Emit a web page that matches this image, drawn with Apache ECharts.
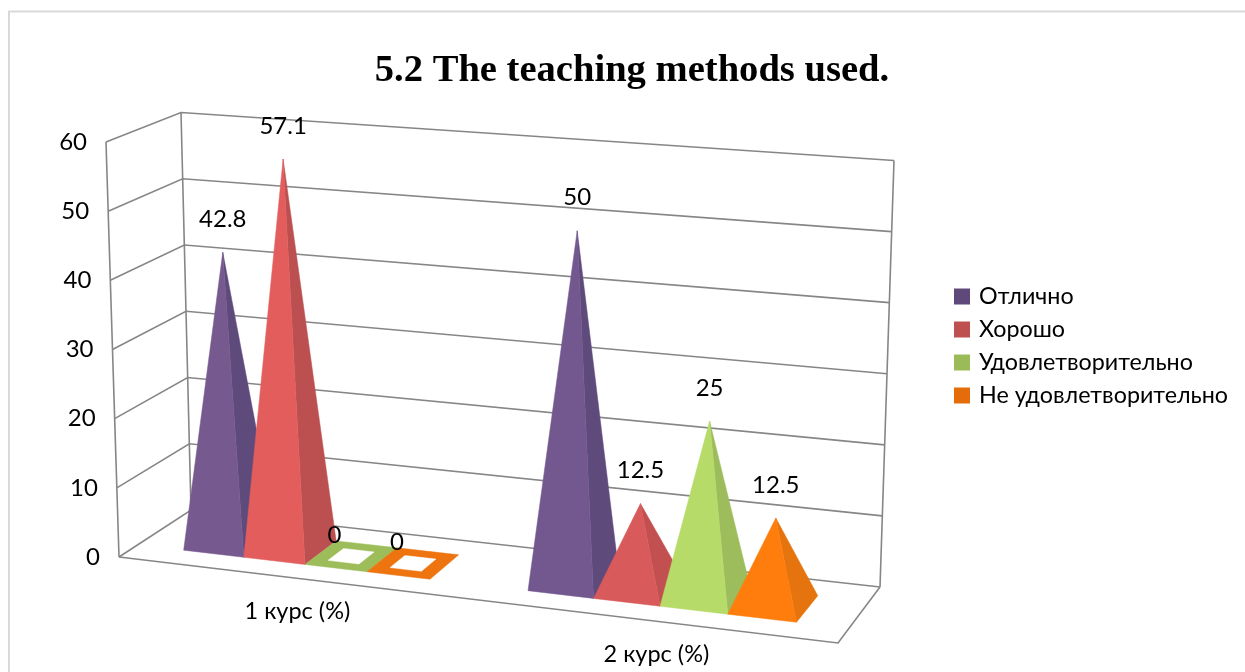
<!DOCTYPE html>
<html><head><meta charset="utf-8">
<style>html,body{margin:0;padding:0;background:#fff}#c{width:1245px;height:672px}</style>
<script src="https://cdn.jsdelivr.net/npm/echarts@6/dist/echarts.min.js"></script>
</head><body><div id="c"></div>
<script>
const categories = ['1 курс (%)', '2 курс (%)'];
const seriesNames = ['Отлично', 'Хорошо', 'Удовлетворительно', 'Не удовлетворительно'];
const otlichno = [42.8, 50];
const khorosho = [57.1, 12.5];
const udovl = [0, 25];
const neudovl = [0, 12.5];
const yTicks = [0, 10, 20, 30, 40, 50, 60];
const allValues = [otlichno, khorosho, udovl, neudovl];

const legendColors = ['#5F497A', '#BE5150', '#9BBB59', '#E46C0A'];
const frontColors = [['#76598F', '#735890'], ['#E35D5C', '#D95A5A'], ['#9CBD59', '#B7DB69'], ['#EE7410', '#FF7D0D']];
const sideColors = [['#5F4A7C', '#5F4A7C'], ['#BC5050', '#C25050'], ['#9CBD59', '#9DBD5C'], ['#EE7410', '#E5740F']];

const C = {
  flb: [119, 557], blb: [191, 510], frb: [838, 643], brb: [880, 587],
  flt: [106, 142], blt: [181, 112.5], frt: [855, 197], brt: [894, 160.5]
};
const PERSP = 0.09, D0 = 0.26, D1 = 0.74, DA = 0.44, APEX_DX = 3, BAR = 0.181;
const lerp = (a, b, t) => [a[0] + (b[0] - a[0]) * t, a[1] + (b[1] - a[1]) * t];
function proj(um, d, w) {
  const u = um / (1 + PERSP * (1 - um));
  const bot = lerp(lerp(C.flb, C.frb, u), lerp(C.blb, C.brb, u), d);
  const top = lerp(lerp(C.flt, C.frt, u), lerp(C.blt, C.brt, u), d);
  return lerp(bot, top, w);
}
const TXT = 'Lato, "Open Sans"';
const FS = 24;
function text(t, x, y, align, fs) {
  return { type: 'text', z2: 50, style: { text: t, x: x, y: y, textAlign: align || 'center', textVerticalAlign: 'middle', fontFamily: TXT, fontSize: fs || FS, fill: '#000' } };
}
function poly(points, fill) {
  return { type: 'polygon', shape: { points: points }, style: { fill: fill, stroke: fill, lineWidth: 0.5 } };
}
function line(points) {
  return { type: 'polyline', shape: { points: points }, style: { fill: null, stroke: '#868686', lineWidth: 1.6 } };
}
function renderWall(params, api) {
  const cs = params.coordSys;
  const v = api.value(1);
  const w = (cs.y + cs.height - api.coord([0, v])[1]) / cs.height;
  const kids = [line([proj(0, 0, w), proj(0, 1, w), proj(1, 1, w)]), text(String(v), proj(0, 0, w)[0] - 19, proj(0, 0, w)[1], 'right')];
  if (params.dataIndex === 0) {
    kids.push(line([proj(0, 0, 0), proj(0, 0, 1)]));
    kids.push(line([proj(0, 1, 0), proj(0, 1, 1)]));
    kids.push(line([proj(1, 1, 0), proj(1, 1, 1)]));
    kids.push(line([proj(0, 0, 0), proj(1, 0, 0), proj(1, 1, 0)]));
  }
  return { type: 'group', children: kids };
}
function renderCat(params, api) {
  const cs = params.coordSys;
  const um = (api.coord([api.value(0), 0])[0] - cs.x) / cs.width;
  const p = proj(um, 0, 0);
  return text(categories[params.dataIndex], p[0] + 10, p[1] + 34, 'center', 23.5);
}
function makePyramid(si) {
  return function (params, api) {
    const cs = params.coordSys;
    const c = api.coord([api.value(0), api.value(1)]);
    const band = api.size([1, 0])[0];
    const left = c[0] - band / 2 - cs.x;
    const u0 = (left + band * (0.14 + si * BAR)) / cs.width;
    const u1 = u0 + band * BAR / cs.width;
    const w = (cs.y + cs.height - c[1]) / cs.height;
    const val = api.value(1);
    const ci = params.dataIndex;
    const fl = proj(u0, D0, 0), fr = proj(u1, D0, 0), bl = proj(u0, D1, 0), br = proj(u1, D1, 0);
    const kids = [];
    if (val === 0) {
      const du = (u1 - u0) * 0.25, dd = (D1 - D0) * 0.25;
      kids.push(poly([fl, fr, br, bl], frontColors[si][ci]));
      kids.push(poly([proj(u0 + du, D0 + dd, 0), proj(u1 - du, D0 + dd, 0), proj(u1 - du, D1 - dd, 0), proj(u0 + du, D1 - dd, 0)], '#fff'));
      const m = proj((u0 + u1) / 2, D0, 0);
      kids.push(text(String(val), m[0] - 1.5, m[1] - 33));
    } else {
      const a = proj((u0 + u1) / 2, DA, w);
      const apex = [a[0] + APEX_DX, a[1]];
      kids.push(poly([apex, fr, br], sideColors[si][ci]));
      kids.push(poly([apex, fl, fr], frontColors[si][ci]));
      kids.push(text(String(val), apex[0], apex[1] - 33));
    }
    return { type: 'group', children: kids };
  };
}

const chart = echarts.init(document.getElementById('c'), null, { renderer: 'canvas' });
const series = [
  { type: 'custom', name: '_walls', silent: true, z: 1, coordinateSystem: 'cartesian2d', renderItem: renderWall, data: yTicks.map(t => [0, t]) },
  { type: 'custom', name: '_cats', silent: true, z: 1, coordinateSystem: 'cartesian2d', renderItem: renderCat, data: categories.map((c, i) => [i, 0]) }
];
seriesNames.forEach((n, si) => {
  series.push({
    type: 'custom', name: n, z: 2 + si, coordinateSystem: 'cartesian2d',
    itemStyle: { color: legendColors[si] }, renderItem: makePyramid(si),
    data: allValues[si].map((v, i) => [i, v])
  });
});
chart.setOption({
  animation: false,
  backgroundColor: '#fff',
  title: { text: '5.2 The teaching methods used.', left: 627, top: 47, textAlign: 'center',
    textStyle: { fontFamily: '"Liberation Serif"', fontWeight: 'bold', fontSize: 38.6, color: '#000' } },
  legend: { data: seriesNames, orient: 'vertical', left: 949, top: 280, itemWidth: 16, itemHeight: 16, itemGap: 10, icon: 'rect',
    selectedMode: false, textStyle: { fontFamily: TXT, fontSize: 23.3, color: '#000', padding: [0, 0, 0, 4] } },
  grid: { left: 0, top: 0, width: 1000, height: 600 },
  xAxis: { type: 'category', data: categories, show: false },
  yAxis: { type: 'value', min: 0, max: 60, interval: 10, show: false },
  graphic: [{ type: 'rect', silent: true, shape: { x: 9, y: 11.5, width: 1400, height: 800 }, style: { fill: null, stroke: '#D9D9D9', lineWidth: 2 } }],
  series: series
});
</script></body></html>
